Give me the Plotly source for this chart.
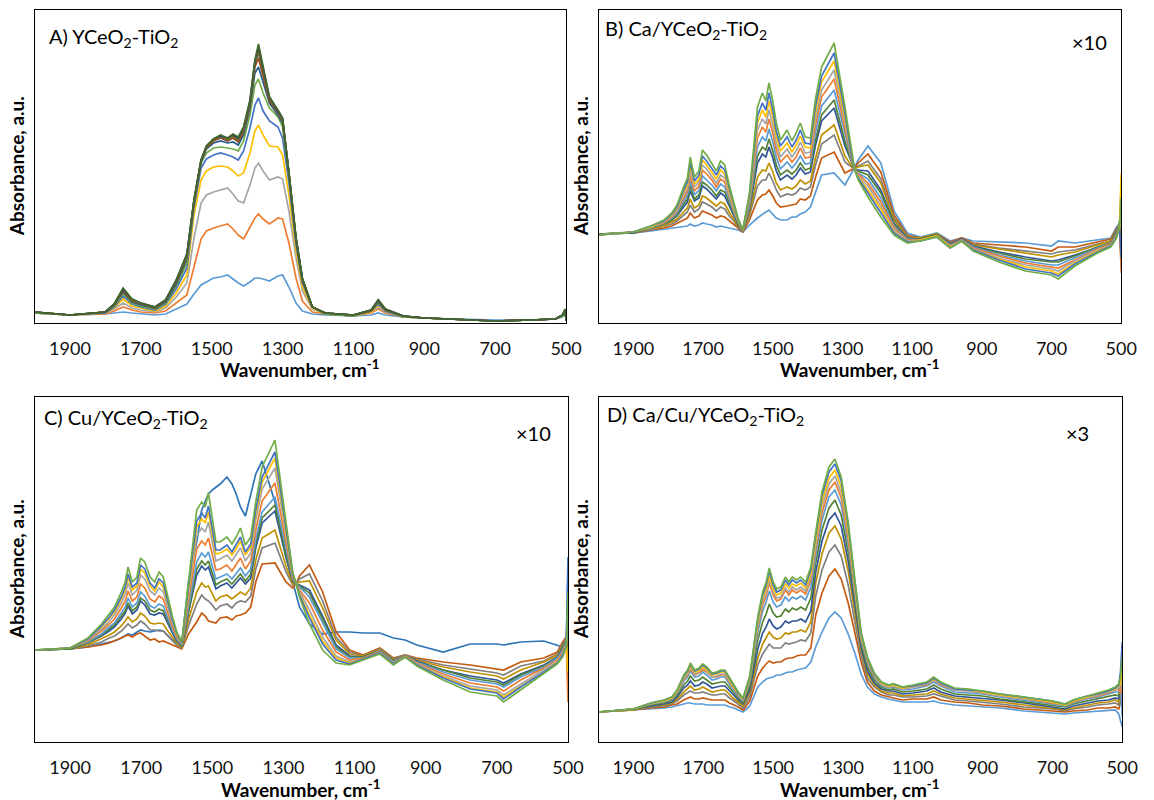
import plotly.graph_objects as go

# ---------------- Panel A : YCeO2-TiO2 ----------------
A_WN = [2000,1900,1800,1775,1750,1725,1700,1660,1630,1600,1570,1550,1530,1515,1495,1475,1455,1440,1425,1410,
        1392,1378,1368,1355,1337,1313,1300,1282,1262,1244,1216,1180,1100,1050,1030,1010,960,900,700,600,
        530,510,502,500]
A_S01 = [10,8,9,10,11,10,9,8,9,14,19,29,38,41,45,46,48,44,40,37,41,45,45,44,42,47,48,36,20,12,9,8,7,8,10,8,6,5,3,3,4,6,10,4]
A_S02 = [10,8,9,12,16,13,11,10,12,20,28,56,84,92,95,97,99,94,88,84,95,105,109,104,99,105,104,80,45,22,11,9,7,10,14,10,6,5,2,3,4,7,12,3]
A_S03 = [10,8,10,14,20,15,13,11,15,26,40,85,120,128,131,133,135,129,122,120,138,155,160,152,143,146,144,112,65,32,14,9,7,11,16,11,6,5,2,3,4,7,12,3]
A_S04 = [10,8,10,15,24,17,15,12,17,30,48,108,143,152,156,157,156,152,147,150,170,192,198,188,177,176,168,128,72,36,15,9,7,11,18,12,6,5,2,3,4,7,12,3]
A_S05 = [10,8,10,16,27,19,16,13,19,34,55,115,155,164,168,170,168,166,163,172,195,218,225,212,202,196,185,140,78,40,16,9,7,12,19,12,6,5,2,3,4,7,12,3]
A_S06 = [10,8,11,17,29,20,17,14,20,37,60,118,160,170,175,176,175,174,172,182,208,238,244,230,215,206,196,146,82,42,16,9,7,12,20,13,6,5,2,3,4,7,12,3]
A_S07 = [11,8,11,18,31,21,18,15,21,39,64,120,161,174,180,182,180,181,178,188,215,250,256,240,220,208,200,148,83,43,16,10,8,12,21,13,7,5,2,3,4,8,13,3]
A_S08 = [11,8,11,18,32,22,19,15,22,41,66,121,162,175,182,185,182,185,181,191,218,256,265,248,222,210,202,149,84,43,16,10,8,12,22,13,7,5,2,3,4,8,13,3]
A_S09 = [11,8,11,19,33,23,19,16,22,42,67,122,162,176,183,186,183,186,183,193,220,259,270,252,224,211,203,150,84,44,16,10,8,13,22,14,7,5,2,3,4,8,13,3]
A_S10 = [11,8,11,19,34,23,20,16,23,42,68,122,163,176,183,187,184,187,184,194,221,261,273,254,225,212,204,150,85,44,16,10,8,13,23,14,7,5,2,3,4,8,14,3]
A_S11 = [11,8,11,19,34,24,20,16,23,43,69,123,163,177,184,187,185,188,185,195,222,262,276,256,226,212,205,150,85,44,16,10,8,13,23,14,7,5,2,3,4,8,14,2]
A_S12 = [11,8,11,19,35,24,20,16,23,43,69,123,163,177,184,188,185,189,186,196,223,263,279,257,226,213,205,151,86,45,16,10,8,13,23,14,7,5,2,3,4,8,14,2]
A_COLORS = ["#5B9BD5","#ED7D31","#A5A5A5","#FFC000","#4472C4","#70AD47",
            "#255E91","#9E480E","#636363","#997300","#264478","#43682B"]

# ---------------- Panel B : Ca/YCeO2-TiO2 ----------------
B_WN = [2000,1900,1850,1812,1790,1775,1756,1745,1737,1725,1712,1702,1690,1675,1662,1650,1638,1625,1612,1600,
        1586,1567,1544,1530,1520,1511,1500,1490,1478,1459,1445,1433,1421,1407,1392,1378,1360,1324,1293,1274,
        1265,1255,1227,1190,1152,1114,1076,1029,991,958,925,851,775,700,681,633,568,530,515,505,500]
B_S01 = [89,90,92,94,95,96,97,97,99,97,98,100,99,98,96,97,96,95,94,93,91,98,105,108,111,113,109,105,103,103,106,106,109,111,116,130,148,150,138,150,156,163,177,160,112,90,86,90,82,85,82,81,80,77,82,80,83,85,95,100,92]
B_S02 = [89,90,93,95,97,100,103,105,110,105,107,112,110,108,105,107,106,102,98,95,91,103,123,128,129,133,127,120,116,117,118,119,124,123,127,145,165,171,150,153,155,160,169,151,108,88,85,89,81,85,80,78,76,72,76,76,81,84,93,99,60]
B_S03 = [89,90,93,97,99,102,108,111,118,111,114,121,119,116,112,116,114,107,102,96,92,107,137,143,143,150,142,133,126,129,128,130,135,133,136,157,179,188,161,156,155,157,162,144,105,87,85,89,80,84,79,75,72,69,71,73,79,82,92,99,110]
B_S04 = [89,90,94,97,101,104,111,115,124,115,118,127,125,121,117,121,119,111,104,97,92,110,146,153,152,160,151,140,133,136,134,137,143,139,142,164,188,198,167,157,155,156,158,140,103,86,85,89,79,84,78,74,70,66,68,71,78,82,91,98,70]
B_S05 = [89,90,95,99,103,107,116,121,132,122,125,137,134,129,124,130,127,117,107,99,92,114,160,169,166,176,165,152,143,148,144,148,155,149,151,177,202,215,177,160,154,153,152,133,100,85,84,88,79,84,77,71,66,62,63,68,76,80,90,98,130]
B_S06 = [89,91,95,99,103,108,119,124,137,124,128,141,138,133,127,133,131,119,109,100,92,116,167,176,173,184,172,158,148,153,149,153,160,153,155,182,208,223,182,161,154,152,148,130,99,84,84,88,78,83,76,70,64,61,61,67,76,80,89,97,80]
B_S07 = [88,91,95,100,105,110,122,128,142,128,133,147,143,138,132,139,136,123,111,101,92,118,176,186,182,194,181,166,154,161,155,160,167,159,160,190,217,233,188,163,154,150,144,125,97,84,83,87,78,83,76,68,62,58,58,65,75,79,88,97,140]
B_S08 = [88,91,96,100,106,112,125,132,147,132,137,153,149,143,136,144,141,126,113,102,92,121,185,196,191,204,190,173,161,168,161,166,175,165,166,197,226,244,194,164,154,149,140,121,95,83,83,87,77,83,75,67,60,56,55,63,74,79,87,96,50]
B_S09 = [88,91,96,101,107,113,128,135,152,136,141,158,154,147,140,148,145,129,115,102,93,123,193,204,199,213,198,180,166,174,166,172,181,170,171,203,233,253,200,166,154,147,137,117,93,82,83,87,76,83,74,65,58,54,52,62,73,78,86,96,100]
B_S10 = [88,91,96,102,108,115,131,138,157,139,144,163,158,151,144,153,149,132,116,103,93,126,200,213,206,222,206,187,172,180,171,178,187,176,175,210,241,262,205,167,153,146,133,114,91,81,83,87,76,82,73,64,56,52,49,60,72,77,85,96,150]
B_S11 = [88,91,97,102,109,116,133,141,161,142,148,167,162,155,148,157,153,135,118,104,93,127,207,220,213,230,213,192,177,186,176,183,193,180,179,216,247,270,210,168,153,145,130,110,90,81,82,86,75,82,73,63,54,50,47,59,71,77,85,95,65]
B_S12 = [88,91,97,103,110,118,136,145,166,146,152,173,168,160,152,162,158,138,120,105,93,130,216,230,222,240,222,200,183,193,182,190,200,186,185,223,256,280,216,170,153,143,126,106,88,80,82,86,75,82,72,61,52,48,44,57,70,76,84,95,125]
BD_COLORS = ["#5B9BD5","#C55A11","#7F7F7F","#BF9000","#2F5597","#548235",
             "#5B9BD5","#ED7D31","#A5A5A5","#FFC000","#4472C4","#70AD47"]

# ---------------- Panel C : Cu/YCeO2-TiO2 ----------------
C_WN = B_WN
C_ODD = [92,93,95,98,100,101,104,106,108,107,110,112,111,110,111,112,111,106,102,99,98,160,200,232,240,248,252,255,258,265,258,248,235,226,249,268,281,240,185,160,148,135,118,108,110,110,109,109,104,102,97,90,98,98,97,100,101,97,95,100,95]
C_S02 = [92,93,95,97,99,101,104,106,107,105,108,109,106,102,103,100,101,99,97,95,93,108,120,129,126,121,120,119,124,125,122,126,127,129,135,160,178,179,160,154,158,166,177,150,110,92,87,94,84,87,84,80,77,73,72,80,84,90,100,105,95]
C_S03 = [92,93,96,100,104,106,111,115,118,114,117,121,118,112,112,111,111,106,101,97,94,116,138,147,143,141,137,132,136,138,134,139,141,140,146,173,194,199,170,157,158,163,168,141,105,90,86,93,83,87,83,77,73,69,67,76,81,88,98,103,140]
C_S04 = [92,93,97,103,107,110,116,121,125,120,123,129,126,119,118,119,118,111,105,99,95,122,150,159,155,156,148,141,145,147,143,147,150,147,154,182,204,212,176,158,158,160,161,134,102,88,86,92,82,86,82,75,70,66,63,72,80,87,96,102,60]
C_S05 = [92,93,99,106,111,115,123,129,136,128,132,141,137,128,127,129,128,118,109,101,96,130,167,176,172,175,164,153,156,159,154,159,164,158,164,194,219,231,185,161,158,157,152,126,97,86,85,91,81,86,81,72,66,62,59,68,77,85,94,101,120]
C_S06 = [92,93,99,107,113,117,126,131,139,131,135,144,141,132,130,133,131,121,110,102,96,132,173,181,177,181,169,157,160,163,158,163,168,161,168,198,224,237,188,162,158,156,149,123,95,85,85,91,81,86,80,72,64,60,57,67,76,84,93,100,80]
C_S07 = [92,94,100,108,115,119,129,135,144,135,139,150,146,136,134,138,136,124,112,103,97,136,180,189,185,190,177,163,165,168,163,169,174,166,173,203,230,245,192,163,159,155,145,119,93,84,84,91,80,86,80,70,62,58,55,65,75,84,92,100,170]
C_S08 = [92,94,101,111,118,123,134,141,151,141,145,158,154,143,140,146,143,129,115,105,98,142,193,201,197,204,188,172,173,177,171,177,184,173,181,212,241,259,199,164,159,152,139,112,90,82,84,90,79,86,79,68,59,55,51,62,74,82,90,99,40]
C_S09 = [92,94,102,113,121,127,139,148,159,147,152,167,163,151,147,154,150,134,119,107,98,148,206,214,210,220,201,181,183,187,181,187,194,181,189,222,253,274,206,166,159,150,132,105,86,80,83,89,79,85,78,66,56,52,47,58,72,81,88,98,130]
C_S10 = [92,94,103,115,124,130,143,152,165,152,156,173,169,156,151,160,155,138,121,108,99,152,215,223,219,230,209,188,189,193,187,193,201,187,195,228,260,284,211,168,159,148,127,101,84,79,83,89,78,85,77,65,54,50,45,56,70,80,87,97,70]
C_S11 = [92,94,103,116,125,132,145,155,168,155,159,177,173,159,154,163,159,140,122,109,99,155,221,229,224,236,215,192,192,197,190,197,205,190,198,232,265,290,214,168,159,147,124,98,82,78,83,89,78,85,77,64,53,49,43,55,70,79,87,96,185]
C_S12 = [92,94,104,118,128,135,150,160,175,160,165,184,180,165,160,170,165,145,125,110,100,160,232,240,235,249,225,200,200,205,198,205,214,197,205,240,275,302,220,170,159,145,118,92,79,77,82,88,77,85,76,62,50,46,40,52,68,78,85,95,150]
C_COLORS = ["#2E75B6","#C55A11","#7F7F7F","#BF9000","#2F5597","#548235",
            "#5B9BD5","#ED7D31","#A5A5A5","#FFC000","#4472C4","#70AD47"]

# ---------------- Panel D : Ca/Cu/YCeO2-TiO2 ----------------
D_WN = [2000,1900,1850,1812,1790,1775,1756,1745,1737,1725,1712,1702,1690,1675,1662,1650,1638,1625,1612,1600,
        1586,1567,1544,1530,1520,1511,1500,1490,1478,1465,1455,1445,1433,1421,1407,1392,1378,1360,1340,1323,
        1305,1285,1265,1248,1230,1210,1190,1170,1155,1130,1100,1060,1040,1020,980,940,900,850,780,700,
        664,640,600,570,540,520,510,505,500]
D_S01 = [30,32,33,34,35,36,38,39,39,38,38,38,37,37,37,37,37,35,34,32,30,36,55,60,63,64,65,67,67,69,70,70,72,73,74,80,95,110,124,130,124,108,88,68,55,48,45,43,42,40,40,40,41,39,37,36,35,34,31,29,28,29,30,31,31,32,28,20,15]
D_S02 = [30,32,34,35,37,38,42,44,45,43,43,44,43,42,42,42,42,39,37,35,32,41,66,74,78,81,79,80,80,83,84,84,86,87,87,94,127,149,166,173,163,139,108,80,60,51,47,45,44,42,43,43,45,42,40,39,37,36,33,31,30,31,32,34,34,35,33,40,60]
D_S03 = [30,32,35,36,38,41,47,49,51,49,49,50,49,47,47,48,48,44,41,38,34,45,77,88,93,98,94,94,94,99,98,99,100,102,101,109,146,172,190,197,186,157,120,86,64,55,50,47,47,45,45,46,48,46,42,41,40,38,35,33,31,33,35,37,38,39,37,50,30]
D_S04 = [30,32,36,37,39,43,50,53,56,52,53,55,53,50,51,52,52,47,43,40,36,49,84,98,104,110,105,103,104,109,108,110,110,112,110,120,159,188,209,216,203,171,128,92,68,57,51,49,49,46,47,48,51,48,44,43,42,40,37,34,32,34,37,39,40,42,40,45,75]
D_S05 = [30,33,36,38,40,45,54,57,61,56,57,60,58,54,55,56,56,51,46,42,38,52,93,109,115,123,116,113,115,121,119,121,121,123,120,131,170,201,222,229,216,181,135,95,71,59,53,51,51,48,49,51,54,50,46,45,44,42,39,35,33,36,39,41,42,44,43,60,40]
D_S06 = [30,33,37,39,42,47,57,61,66,61,62,65,62,58,59,60,60,54,49,44,39,56,102,120,128,138,129,125,126,133,130,134,132,135,132,144,179,212,234,242,227,190,141,99,75,62,55,52,53,50,51,53,57,53,48,47,46,43,40,37,35,38,41,43,45,47,46,55,90]
D_S07 = [30,33,38,40,43,49,61,65,71,65,66,70,67,62,63,65,65,58,51,46,41,60,110,131,140,151,140,135,137,145,141,145,143,146,142,155,187,222,245,252,237,198,146,102,79,65,57,54,55,52,53,56,60,56,50,49,48,45,42,38,36,39,43,45,48,50,50,62,25]
D_S08 = [30,33,38,41,44,50,63,67,73,67,69,72,70,65,65,67,67,60,53,47,42,62,115,137,146,159,147,141,143,152,147,152,149,152,148,162,193,229,252,260,244,203,149,104,81,66,58,55,56,53,55,57,62,57,52,51,49,46,43,39,37,40,44,46,49,52,53,48,70]
D_S09 = [30,33,38,41,44,50,64,68,75,68,70,74,71,65,66,68,68,61,54,48,42,63,117,140,149,162,150,144,145,154,150,155,152,155,151,165,197,235,258,266,249,208,152,105,82,67,58,55,56,53,55,58,62,58,52,51,49,46,43,40,37,41,44,47,50,52,54,66,50]
D_S10 = [30,33,39,41,44,51,65,70,76,70,71,75,72,67,68,70,70,62,54,49,43,64,120,144,153,166,153,147,149,158,154,158,156,159,154,168,202,240,264,272,255,212,155,107,83,68,59,56,57,54,56,59,63,59,53,52,50,47,44,40,37,41,45,48,51,53,56,58,80]
D_S11 = [30,33,39,42,45,52,66,71,78,71,73,77,74,68,69,71,71,63,55,49,44,65,123,147,157,171,157,150,152,162,157,162,159,162,157,172,207,246,270,278,261,217,158,109,84,68,60,57,58,55,56,59,64,59,53,52,51,48,45,41,38,42,46,48,51,54,57,70,100]
D_S12 = [30,33,39,42,45,52,67,72,79,72,74,78,75,69,70,72,72,64,56,50,44,66,125,150,160,174,160,153,155,165,160,165,162,165,160,175,210,250,275,283,265,220,160,110,85,69,60,57,58,55,57,60,65,60,54,53,51,48,45,41,38,42,46,49,52,55,58,65,85]

X_TICKS = [1900, 1700, 1500, 1300, 1100, 900, 700, 500]
PANEL_TITLES = ["A) YCeO<sub>2</sub>-TiO<sub>2</sub>", "B) Ca/YCeO<sub>2</sub>-TiO<sub>2</sub>",
                "C) Cu/YCeO<sub>2</sub>-TiO<sub>2</sub>", "D) Ca/Cu/YCeO<sub>2</sub>-TiO<sub>2</sub>"]
SCALE_LABELS = ["", "×10", "×10", "×3"]

panels = [
    (A_WN, [A_S01,A_S02,A_S03,A_S04,A_S05,A_S06,A_S07,A_S08,A_S09,A_S10,A_S11,A_S12], A_COLORS),
    (B_WN, [B_S01,B_S02,B_S03,B_S04,B_S05,B_S06,B_S07,B_S08,B_S09,B_S10,B_S11,B_S12], BD_COLORS),
    (C_WN, [C_ODD,C_S02,C_S03,C_S04,C_S05,C_S06,C_S07,C_S08,C_S09,C_S10,C_S11,C_S12], C_COLORS),
    (D_WN, [D_S01,D_S02,D_S03,D_S04,D_S05,D_S06,D_S07,D_S08,D_S09,D_S10,D_S11,D_S12], BD_COLORS),
]

W, H = 1154, 800
# plot-area boxes in pixels: (left, right, top, bottom)
boxes = [(35, 574, 10, 323), (607, 1137, 10, 323), (35, 576, 397, 742), (607, 1138, 397, 742)]
yranges = [313, 313, 345, 345]

fig = go.Figure()
FONT = "Lato, 'Liberation Sans', sans-serif"

for i, ((wn, ser, cols), (l, r, t, b)) in enumerate(zip(panels, boxes)):
    xa = "x" if i == 0 else f"x{i+1}"
    ya = "y" if i == 0 else f"y{i+1}"
    for s, c in zip(ser, cols):
        fig.add_trace(go.Scatter(x=wn, y=s, mode="lines", line=dict(color=c, width=1.7),
                                 xaxis=xa, yaxis=ya, showlegend=False, hoverinfo="skip"))
    xkey = "xaxis" if i == 0 else f"xaxis{i+1}"
    ykey = "yaxis" if i == 0 else f"yaxis{i+1}"
    fig.layout[xkey] = dict(domain=[l / W, r / W], range=[2000, 500], anchor=ya,
                            showline=True, linecolor="black", linewidth=1, mirror=True,
                            showgrid=False, zeroline=False, tickvals=X_TICKS, ticks="",
                            ticklabelstandoff=9,
                            tickfont=dict(family=FONT, size=18, color="#111"))
    fig.layout[ykey] = dict(domain=[1 - b / H, 1 - t / H], range=[0, yranges[i]], anchor=xa,
                            showline=True, linecolor="black", linewidth=1, mirror=True,
                            showgrid=False, zeroline=False, showticklabels=False, ticks="")
    # x-axis title
    fig.add_annotation(text="<b>Wavenumber, cm<sup>-1</sup></b>", xref="paper", yref="paper",
                       x=(l + r) / 2 / W, y=1 - (b + 46) / H, showarrow=False,
                       font=dict(family=FONT, size=19, color="black"), xanchor="center", yanchor="middle")
    # y-axis title
    fig.add_annotation(text="<b>Absorbance, a.u.</b>", xref="paper", yref="paper",
                       x=(l - 18) / W, y=1 - (t + b) / 2 / H, showarrow=False, textangle=-90,
                       font=dict(family=FONT, size=19, color="black"), xanchor="center", yanchor="middle")

# panel titles
title_pos = [(48, 38), (611, 30), (43, 418), (613, 415)]
for (tx, ty), txt in zip(title_pos, PANEL_TITLES):
    fig.add_annotation(text=txt, xref="paper", yref="paper", x=tx / W, y=1 - ty / H,
                       showarrow=False, xanchor="left", yanchor="middle",
                       font=dict(family=FONT, size=20, color="black"))
scale_pos = [None, (1105, 42), (541, 433), (1093, 433)]
for pos, txt in zip(scale_pos, SCALE_LABELS):
    if pos is None:
        continue
    fig.add_annotation(text=txt, xref="paper", yref="paper", x=pos[0] / W, y=1 - pos[1] / H,
                       showarrow=False, xanchor="center", yanchor="middle",
                       font=dict(family=FONT, size=20, color="black"))

fig.update_layout(width=W, height=H, margin=dict(l=0, r=0, t=0, b=0),
                  paper_bgcolor="white", plot_bgcolor="white")
fig.write_html("out.html")
